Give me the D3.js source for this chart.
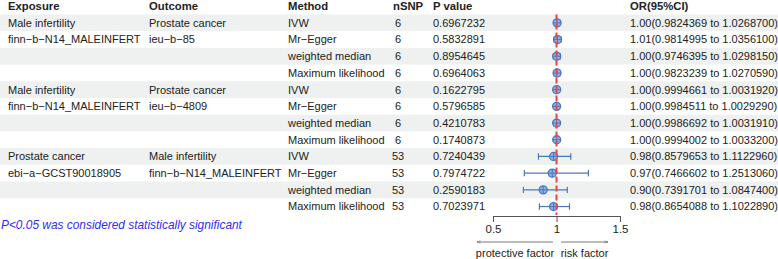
<!DOCTYPE html>
<html>
<head>
<meta charset="utf-8">
<script src="https://cdn.jsdelivr.net/npm/d3@7"></script>
<style>
  body { margin: 0; background: #fff; }
  svg { font-family: "Liberation Sans", Arial, sans-serif; font-size: 11px; }
</style>
</head>
<body>
<svg id="chart" width="778" height="259"></svg>
<script>
// table columns
const exposure = ['Male infertility', 'finn−b−N14_MALEINFERT', '', '',
  'Male infertility', 'finn−b−N14_MALEINFERT', '', '',
  'Prostate cancer', 'ebi−a−GCST90018905', '', ''];
const outcome = ['Prostate cancer', 'ieu−b−85', '', '',
  'Prostate cancer', 'ieu−b−4809', '', '',
  'Male infertility', 'finn−b−N14_MALEINFERT', '', ''];
const methods = ['IVW', 'Mr−Egger', 'weighted median', 'Maximum likelihood',
  'IVW', 'Mr−Egger', 'weighted median', 'Maximum likelihood',
  'IVW', 'Mr−Egger', 'weighted median', 'Maximum likelihood'];
const nsnp = [6, 6, 6, 6, 6, 6, 6, 6, 53, 53, 53, 53];
const pvals = ['0.6967232', '0.5832891', '0.8954645', '0.6964063',
  '0.1622795', '0.5796585', '0.4210783', '0.1740873',
  '0.7240439', '0.7974722', '0.2590183', '0.7023971'];
const orVals = [1.0044, 1.0082, 1.0018, 1.0044, 1.0013, 1.0007, 1.0009, 1.0014, 0.9768, 0.9666, 0.8955, 0.9767];
const lower = [0.9824369, 0.9814995, 0.9746395, 0.9823239, 0.9994661, 0.9984511, 0.9986692, 0.9994002, 0.8579653, 0.7466602, 0.7391701, 0.8654088];
const upper = [1.0268700, 1.0356100, 1.0298150, 1.0270590, 1.0031920, 1.0029290, 1.0031910, 1.0033200, 1.1122960, 1.2513060, 1.0847400, 1.1022890];
const orLabels = ['1.00', '1.01', '1.00', '1.00', '1.00', '1.00', '1.00', '1.00', '0.98', '0.97', '0.90', '0.98'];
const xTicks = [0.5, 1, 1.5];

const svg = d3.select('#chart');
const W = 778;
const rowTop = 14.5, rowH = 16.7;
const rows = d3.range(methods.length);

const y = d3.scaleBand().domain(rows).range([rowTop, rowTop + rowH * rows.length]);
const x = d3.scaleLinear().domain([0.5, 1.5]).range([493, 620]);

// zebra background
svg.append('g').selectAll('rect')
    .data(rows.filter(i => i % 2 === 0))
    .enter().append('rect')
    .attr('x', 0).attr('width', W)
    .attr('y', i => y(i)).attr('height', y.bandwidth())
    .attr('fill', '#eef1f0');

// header + columns
const cols = [
  {name: 'Exposure', x: 8, vals: exposure},
  {name: 'Outcome', x: 149, vals: outcome},
  {name: 'Method', x: 288, vals: methods},
  {name: 'nSNP', x: 393, vals: nsnp},
  {name: 'P value', x: 433, vals: pvals},
  {name: 'OR(95%CI)', x: 630, vals: rows.map(i => orLabels[i] + '(' + lower[i].toFixed(7) + ' to ' + upper[i].toFixed(7) + ')')}
];

svg.append('g').selectAll('text')
    .data(cols).enter().append('text')
    .attr('x', d => d.x).attr('y', 6)
    .attr('dy', '0.35em')
    .attr('font-weight', 'bold')
    .attr('font-size', 11.3)
    .attr('fill', '#222')
    .text(d => d.name);

cols.forEach(c => {
  svg.append('g').selectAll('text')
      .data(rows).enter().append('text')
      .attr('x', i => c.name === 'nSNP' ? c.x + (nsnp[i] < 10 ? 2 : -1) : c.x)
      .attr('y', i => y(i) + y.bandwidth() / 2)
      .attr('dy', '0.35em')
      .attr('fill', '#222')
      .text(i => c.vals[i]);
});

// forest marks
const blue = '#4a78c0';
const fg = svg.append('g');
const cap = 3.2, r = 4;
rows.forEach(i => {
  const cy = y(i) + y.bandwidth() / 2;
  const g = fg.append('g').attr('stroke', blue).attr('stroke-width', 1.2);
  g.append('line').attr('x1', x(lower[i])).attr('x2', x(upper[i])).attr('y1', cy).attr('y2', cy);
  g.append('line').attr('x1', x(lower[i])).attr('x2', x(lower[i])).attr('y1', cy - cap).attr('y2', cy + cap);
  g.append('line').attr('x1', x(upper[i])).attr('x2', x(upper[i])).attr('y1', cy - cap).attr('y2', cy + cap);
  const cx = x(orVals[i]);
  g.append('circle').attr('cx', cx).attr('cy', cy).attr('r', r)
      .attr('fill', '#8fb0e0').attr('stroke-width', 1.3);
  g.append('line').attr('x1', cx - r).attr('x2', cx + r).attr('y1', cy).attr('y2', cy).attr('stroke-width', 1);
  g.append('line').attr('x1', cx).attr('x2', cx).attr('y1', cy - r).attr('y2', cy + r).attr('stroke-width', 1);
});

// reference line at OR = 1
svg.append('line')
    .attr('x1', x(1)).attr('x2', x(1))
    .attr('y1', rowTop).attr('y2', y(rows.length - 1) + y.bandwidth())
    .attr('stroke', '#e8474a').attr('stroke-width', 2)
    .attr('stroke-dasharray', '6,3');

// x axis, ticks pointing down
const axisY = 216;
const axis = svg.append('g')
    .attr('transform', 'translate(0,' + axisY + ')')
    .call(d3.axisBottom(x).tickValues(xTicks).tickFormat(d3.format('')).tickSize(6).tickSizeOuter(6));
axis.select('.domain').attr('stroke', '#555');
axis.selectAll('.tick line').attr('stroke', '#555');
axis.selectAll('.tick text').attr('font-size', 11.5).attr('fill', '#222').attr('font-family', 'Liberation Sans, Arial, sans-serif').attr('y', 9);

// arrows
const defs = svg.append('defs');
defs.append('marker').attr('id', 'arr').attr('viewBox', '0 0 10 10')
    .attr('refX', 9).attr('refY', 5).attr('markerWidth', 5).attr('markerHeight', 5)
    .attr('orient', 'auto-start-reverse')
    .append('path').attr('d', 'M0,2 L9,5 L0,8').attr('fill', 'none').attr('stroke', '#555').attr('stroke-width', 1.2);
const arrowY = 242;
svg.append('line').attr('x1', 553).attr('x2', 477).attr('y1', arrowY).attr('y2', arrowY)
    .attr('stroke', '#555').attr('stroke-width', 0.8).attr('marker-end', 'url(#arr)');
svg.append('line').attr('x1', 561).attr('x2', 608).attr('y1', arrowY).attr('y2', arrowY)
    .attr('stroke', '#555').attr('stroke-width', 0.8).attr('marker-end', 'url(#arr)');
svg.append('text').attr('x', 515).attr('y', 253).attr('dy', '0.35em').attr('text-anchor', 'middle')
    .attr('fill', '#222').text('protective factor');
svg.append('text').attr('x', 584.5).attr('y', 253).attr('dy', '0.35em').attr('text-anchor', 'middle')
    .attr('fill', '#222').text('risk factor');

// footnote
svg.append('text').attr('x', 1).attr('y', 225).attr('dy', '0.35em')
    .attr('font-style', 'italic').attr('font-size', 11.9).attr('fill', '#2f2ff0')
    .text('P<0.05 was considered statistically significant');
</script>
</body>
</html>
